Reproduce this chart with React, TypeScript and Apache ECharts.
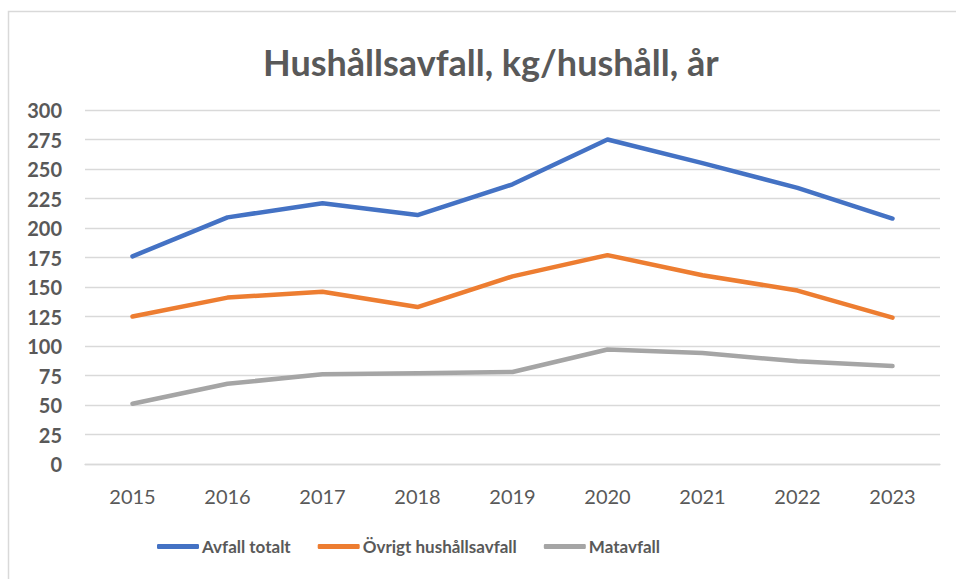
import React, { useEffect, useRef } from "react";
import * as echarts from "echarts";

const years = ["2015", "2016", "2017", "2018", "2019", "2020", "2021", "2022", "2023"];
const avfallTotalt = [176, 209, 221, 211, 237, 275, 255, 234, 208];
const ovrigtHushallsavfall = [125, 141, 146, 133, 159, 177, 160, 147, 124];
const matavfall = [51, 68, 76, 77, 78, 97, 94, 87, 83];
const seriesNames = ["Avfall totalt", "Övrigt hushållsavfall", "Matavfall"];
const colors = ["#4472C4", "#ED7D31", "#A5A5A5"];

const FONT = "Lato, 'Open Sans', sans-serif";
const TEXT = "#595959";

export default function App() {
  const ref = useRef<HTMLDivElement>(null);
  useEffect(() => {
    if (!ref.current) return;
    const chart = echarts.init(ref.current, undefined, { renderer: "svg" });
    const values = [avfallTotalt, ovrigtHushallsavfall, matavfall];
    chart.setOption({
      animation: false,
      backgroundColor: "#ffffff",
      title: {
        text: "Hushållsavfall, kg/hushåll, år",
        left: 258,
        top: 39,
        textStyle: { fontFamily: FONT, fontWeight: "bold", fontSize: 36, color: TEXT },
      },
      graphic: [
        {
          type: "rect",
          shape: { x: 8.5, y: 11.5, width: 1000, height: 1000 },
          style: { fill: "none", stroke: "#d9d9d9", lineWidth: 1.5 },
          silent: true,
        },
      ],
      legend: {
        bottom: 19,
        left: 152,
        icon: "roundRect",
        itemWidth: 42,
        itemHeight: 5,
        itemGap: 27,
        textStyle: { fontFamily: FONT, fontWeight: "bold", fontSize: 17, color: TEXT, padding: [0, 0, 0, -2] },
        data: seriesNames,
      },
      grid: { left: 85, right: 16, top: 110, bottom: 115, containLabel: false },
      xAxis: {
        type: "category",
        data: years,
        boundaryGap: true,
        axisLine: { show: true, lineStyle: { color: "#d9d9d9", width: 1.3 } },
        axisTick: { show: false },
        axisLabel: { fontFamily: FONT, fontSize: 20, color: TEXT, margin: 22 },
      },
      yAxis: {
        type: "value",
        min: 0,
        max: 300,
        interval: 25,
        axisLine: { show: false },
        axisTick: { show: false },
        splitLine: { lineStyle: { color: "#d9d9d9", width: 1.3 } },
        axisLabel: { fontFamily: FONT, fontWeight: "bold", fontSize: 20, color: TEXT, margin: 23 },
      },
      series: seriesNames.map((name, i) => ({
        name,
        type: "line",
        data: values[i],
        symbol: "none",
        color: colors[i],
        lineStyle: { color: colors[i], width: 4.5, cap: "round", join: "round" },
      })),
    });
    return () => chart.dispose();
  }, []);
  return (
    <div
      ref={ref}
      style={{ position: "absolute", left: 0, top: 0, width: 956, height: 579 }}
    />
  );
}
